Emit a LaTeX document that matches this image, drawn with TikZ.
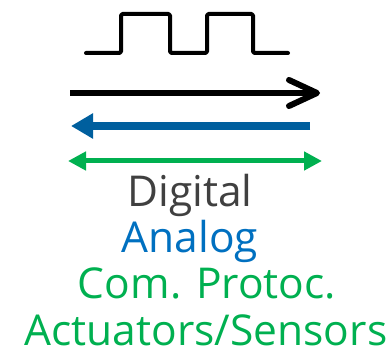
\documentclass[tikz,border=0pt]{standalone}
\usepackage{fontspec}
\setmainfont{Open Sans}
\usetikzlibrary{arrows.meta}
\definecolor{dgray}{HTML}{404040}
\definecolor{ablue}{HTML}{0070C0}
\definecolor{darrow}{HTML}{005F9E}
\definecolor{cgreen}{HTML}{00B050}
\tikzset{
  lbl/.style={anchor=base, inner sep=0pt, font=\fontsize{42.5}{42.5}\selectfont},
  wave/.style={line width=4pt, line join=round, line cap=round, rounded corners=1.5pt},
}
\begin{document}
\begin{tikzpicture}[x=1pt,y=-1pt]
\useasboundingbox (0,0) rectangle (387,355);
% square wave
\draw[wave] (86,53) -- (121,53) -- (121,14) -- (170,14) -- (170,53) -- (207,53) -- (207,14) -- (253,14) -- (253,53) -- (288,53);
% arrows
\coordinate (b1) at (70,93); \coordinate (b2) at (320,93);
\draw[line width=6pt, -{Straight Barb[length=28pt,width=26pt,round]}] (b1) -- (b2);
\coordinate (u1) at (310,126); \coordinate (u2) at (71,126);
\draw[darrow, line width=8pt, -{Triangle[length=22pt,width=24pt]}] (u1) -- (u2);
\coordinate (g1) at (68,161); \coordinate (g2) at (322,161);
\draw[cgreen, line width=5pt, {Triangle[length=18pt,width=18pt]}-{Triangle[length=18pt,width=18pt]}] (g1) -- (g2);
% labels
\node[lbl, text=dgray] (dig) at (190,206) {Digital};
\node[lbl, text=ablue] (ana) at (190,252) {Analog};
\node[lbl, text=cgreen] (com) at (207,298) {Com. Protoc.};
\node[lbl, text=cgreen] (act) at (206,345) {Actuators/Sensors};
\end{tikzpicture}
\end{document}
